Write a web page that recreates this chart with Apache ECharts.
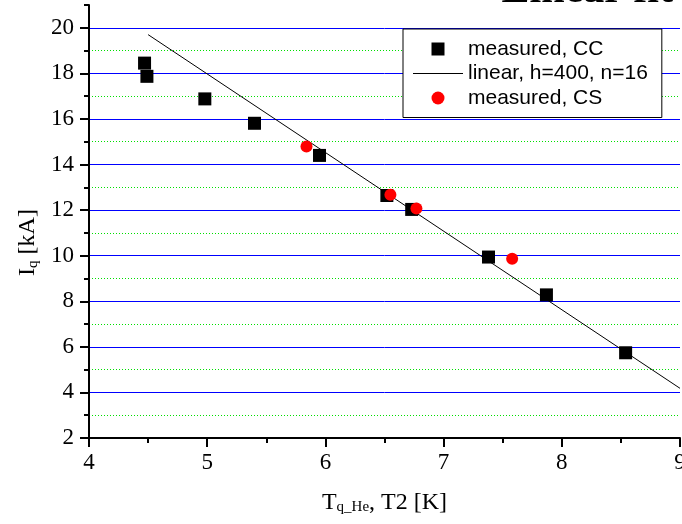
<!DOCTYPE html>
<html>
<head>
<meta charset="utf-8">
<script src="https://cdn.jsdelivr.net/npm/echarts@6/dist/echarts.min.js"></script>
<style>
html,body{margin:0;padding:0;background:#fff;}
#chart{width:682px;height:524px;}
</style>
</head>
<body>
<div id="chart"></div>
<script>
// ---- data ----
const ccT = [4.47, 4.49, 4.98, 5.40, 5.95, 6.52, 6.73, 7.38, 7.87, 8.54];
const ccI = [18.45, 17.87, 16.88, 15.81, 14.40, 12.64, 12.03, 9.94, 8.28, 5.74];
const csT = [5.84, 6.55, 6.77, 7.58];
const csI = [14.79, 12.67, 12.07, 9.87];
const fitT = [4.5, 9.0];
const fitI = [19.70, 4.18];
const seriesNames = ['measured, CC', 'linear, h=400, n=16', 'measured, CS'];
const xTicks = {min: 4, max: 9, interval: 1};
const yTicks = {min: 2, max: 21, interval: 2};
const yMinorGrid = [3, 5, 7, 9, 11, 13, 15, 17, 19];
const titleText = 'Linear fit';

const zip = (a, b) => a.map((v, i) => [v, b[i]]);
const serif = '"Liberation Serif", "Times New Roman", serif';
const sans = '"Liberation Sans", Arial, sans-serif';

const chart = echarts.init(document.getElementById('chart'), null, {renderer: 'canvas'});
const subRich = {
  m: {fontSize: 24, fontFamily: serif, color: '#000', lineHeight: 24, verticalAlign: 'top'},
  s: {fontSize: 15, fontFamily: serif, color: '#000', lineHeight: 15, verticalAlign: 'bottom', padding: [14, 0, 0, 0]}
};
chart.setOption({
  animation: false,
  graphic: [{
    type: 'text', x: 673, y: -30, z: 100,
    style: {text: titleText, font: 'bold 42px ' + serif, fill: '#000', align: 'right', verticalAlign: 'top'}
  }],
  grid: {left: 89, right: 2, top: 5, bottom: 86, outerBoundsMode: 'none', containLabel: false},
  legend: {
    orient: 'vertical', left: 403, top: 29, z: 10,
    itemWidth: 50, itemHeight: 13, itemGap: 3.5,
    padding: [9.5, 14, 9, 10],
    backgroundColor: '#fff', borderColor: '#000', borderWidth: 1,
    symbolKeepAspect: true, selectedMode: false,
    textStyle: {fontFamily: sans, fontSize: 21, color: '#000'},
    data: [
      {name: seriesNames[0], icon: 'path://M0,0H1V1H0Z'},
      {name: seriesNames[1], icon: 'path://M0,0H49V1H0Z'},
      {name: seriesNames[2], icon: 'circle'}
    ]
  },
  xAxis: {
    type: 'value', min: xTicks.min, max: xTicks.max, interval: xTicks.interval,
    name: '{m|T}{s|q_He}{m|, T2 [K]}', nameLocation: 'middle', nameGap: 53,
    nameTextStyle: {rich: subRich},
    axisLine: {show: true, onZero: false, lineStyle: {color: '#000', width: 2}},
    axisTick: {show: true, inside: false, length: 9, lineStyle: {color: '#000', width: 2}},
    minorTick: {show: true, splitNumber: 2, length: 5, lineStyle: {color: '#000', width: 2}},
    splitLine: {show: false}, minorSplitLine: {show: false},
    axisLabel: {fontSize: 23, fontFamily: serif, color: '#000', margin: 13}
  },
  yAxis: [{
    type: 'value', min: yTicks.min, max: yTicks.max, interval: yTicks.interval, position: 'left', z: 2,
    name: '{m|I}{s|q}{m| [kA]}', nameLocation: 'middle', nameGap: 44, nameRotate: 90,
    nameTextStyle: {rich: subRich, padding: [0, 42, 0, 0]},
    axisLine: {show: true, onZero: false, lineStyle: {color: '#000', width: 2}},
    axisTick: {show: true, inside: false, length: 9, lineStyle: {color: '#000', width: 2}},
    axisLabel: {fontSize: 23, fontFamily: serif, color: '#000', margin: 15, showMaxLabel: false},
    splitLine: {show: true, showMinLine: false, showMaxLine: false, lineStyle: {color: '#0000ff', width: 1}}
  }, {
    type: 'value', min: yTicks.min, max: yTicks.max, interval: yTicks.interval / 2, position: 'left', z: 0,
    axisLine: {show: false},
    axisLabel: {show: false},
    axisTick: {show: true, inside: false, length: 5, lineStyle: {color: '#000', width: 2}},
    splitLine: {show: false}
  }],
  series: [{
    name: 'minor grid', type: 'line', yAxisIndex: 0, z: 1, data: [], silent: true,
    markLine: {
      silent: true, symbol: 'none', animation: false, z: 1,
      label: {show: false},
      lineStyle: {color: '#00e000', type: [1, 2], width: 1},
      emphasis: {disabled: true},
      data: yMinorGrid.map(v => ({yAxis: v}))
    }
  }, {
    name: seriesNames[0], type: 'scatter', yAxisIndex: 0, z: 3,
    data: zip(ccT, ccI), symbol: 'rect', symbolSize: 13,
    itemStyle: {color: '#000', opacity: 1}
  }, {
    name: seriesNames[1], type: 'line', yAxisIndex: 0, z: 3,
    data: zip(fitT, fitI), symbol: 'none', showSymbol: false,
    lineStyle: {color: '#000', width: 1}, itemStyle: {color: '#000'}
  }, {
    name: seriesNames[2], type: 'scatter', yAxisIndex: 0, z: 3,
    data: zip(csT, csI), symbol: 'circle', symbolSize: 12,
    itemStyle: {color: '#ff0000', opacity: 1}
  }]
});
</script>
</body>
</html>
